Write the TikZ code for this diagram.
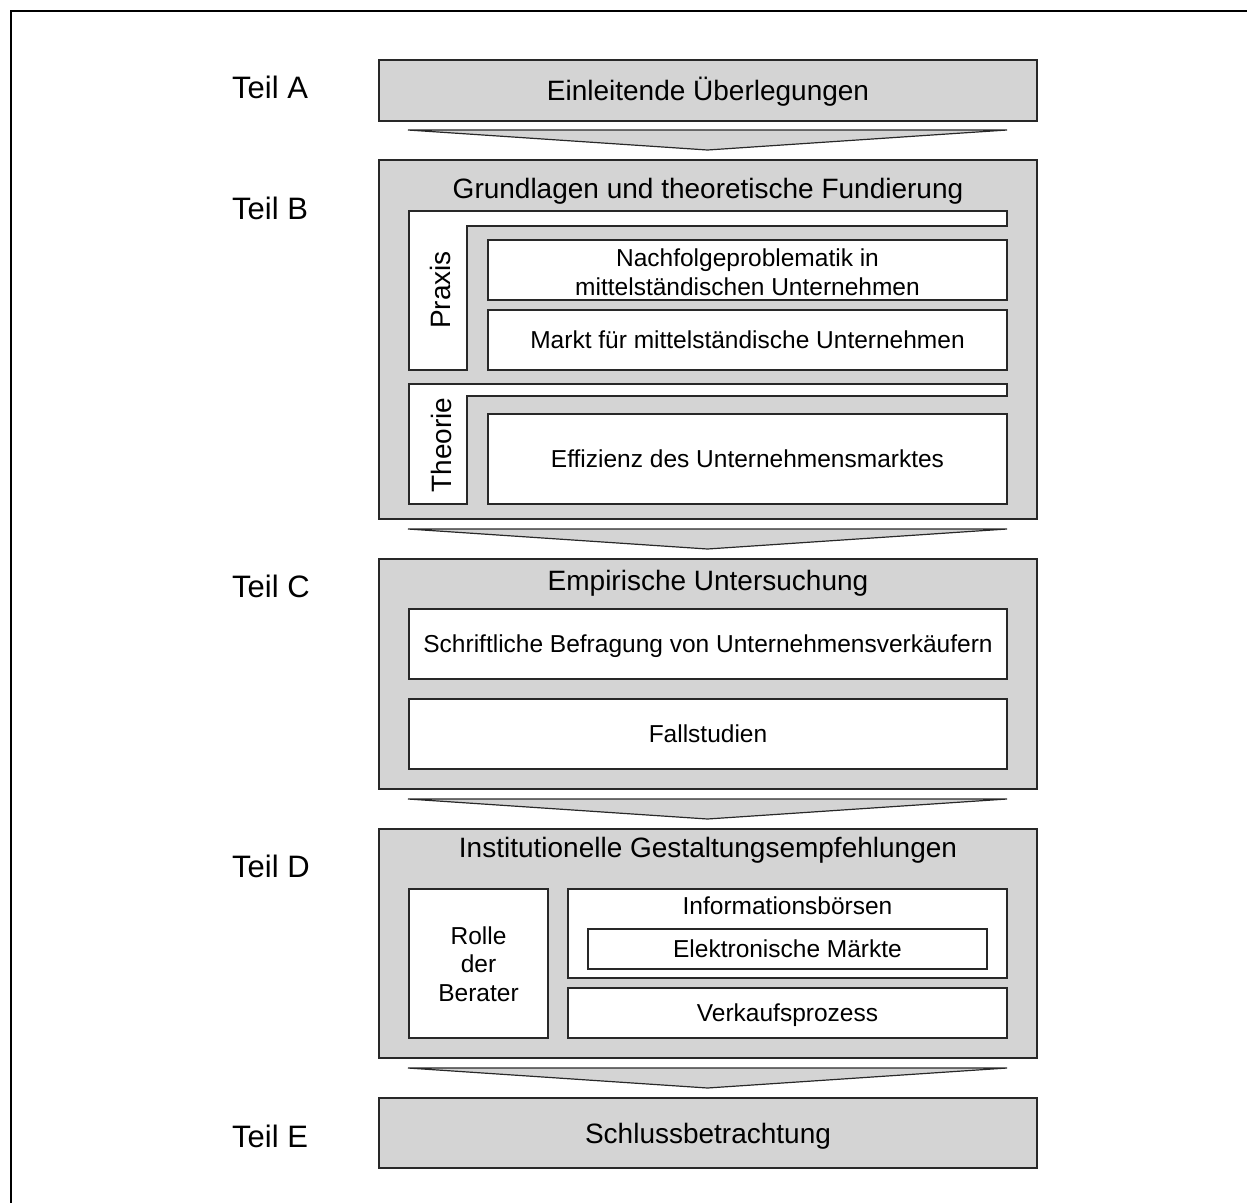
\documentclass[tikz,border=0pt]{standalone}
\usepackage{fontspec}
\setmainfont{Liberation Sans}
\usetikzlibrary{fit}
\definecolor{boxgray}{RGB}{212,212,212}
\definecolor{edgecol}{RGB}{40,40,40}
\newcommand{\fTitle}{\fontsize{28}{32}\selectfont}
\newcommand{\fInner}{\fontsize{24.5}{28.5}\selectfont}
\newcommand{\fTeil}{\fontsize{31}{36}\selectfont}
\begin{document}
\begin{tikzpicture}[x=1pt,y=-1pt,
  gbox/.style={draw=edgecol, line width=1.2pt, fill=boxgray, inner sep=0pt},
  wbox/.style={draw=edgecol, line width=1.2pt, fill=white, inner sep=0pt},
  chev/.style={draw=edgecol, line width=1.2pt, fill=boxgray, line join=miter},
  teil/.style={inner sep=0pt, anchor=base west, font=\fTeil},
  ttl/.style={inner sep=0pt, anchor=base, font=\fTitle},
  txt/.style={inner sep=0pt, anchor=base, font=\fInner},
  mtxt/.style={inner sep=0pt, align=center, font=\fInner},
  vtxt/.style={inner sep=0pt, anchor=base, rotate=90, font=\fTitle}
]
\useasboundingbox (0,0) rectangle (1247,1202);
\draw[line width=2.5pt] (11,1210) -- (11,11) -- (1255,11);

% Teil A
\node[teil] (tA) at (232,98) {Teil A};
\node[gbox, fit={(379,60)(1037,121)}] (A) {};
\node[ttl] (Atxt) at (708,100.5) {Einleitende Überlegungen};
\draw[chev] (408,130) -- (1007,130) -- (707.5,150) -- cycle;

% Teil B
\node[teil] (tB) at (232,219) {Teil B};
\node[gbox, fit={(379,160)(1037,519)}] (B) {};
\node[ttl] (Btxt) at (708,198) {Grundlagen und theoretische Fundierung};
\draw[wbox] (409,211) -- (1007,211) -- (1007,226) -- (467,226) -- (467,370) -- (409,370) -- cycle;
\node[vtxt] (praxis) at (450,290) {Praxis};
\node[wbox, fit={(488,240)(1007,300)}] (N) {};
\node[mtxt] (Ntxt) at (747.5,272) {Nachfolgeproblematik in\\mittelständischen Unternehmen};
\node[wbox, fit={(488,310)(1007,370)}] (M) {};
\node[txt] (Mtxt) at (747.5,348.7) {Markt für mittelständische Unternehmen};
\draw[wbox] (409,384) -- (1007,384) -- (1007,396) -- (467,396) -- (467,504) -- (409,504) -- cycle;
\node[vtxt] (theorie) at (451,445) {Theorie};
\node[wbox, fit={(488,414)(1007,504)}] (Eff) {};
\node[txt] (Efftxt) at (747.5,467.7) {Effizienz des Unternehmensmarktes};
\draw[chev] (408,529) -- (1007,529) -- (707.5,549) -- cycle;

% Teil C
\node[teil] (tC) at (232,597) {Teil C};
\node[gbox, fit={(379,559)(1037,789)}] (C) {};
\node[ttl] (Ctxt) at (708,590) {Empirische Untersuchung};
\node[wbox, fit={(409,609)(1007,679)}] (S) {};
\node[txt] (Stxt) at (708,652.7) {Schriftliche Befragung von Unternehmensverkäufern};
\node[wbox, fit={(409,699)(1007,769)}] (F) {};
\node[txt] (Ftxt) at (708,742.7) {Fallstudien};
\draw[chev] (408,799) -- (1007,799) -- (707.5,819) -- cycle;

% Teil D
\node[teil] (tD) at (232,877) {Teil D};
\node[gbox, fit={(379,829)(1037,1058)}] (D) {};
\node[ttl] (Dtxt) at (708,857) {Institutionelle Gestaltungsempfehlungen};
\node[wbox, fit={(409,889)(548,1038)}] (R) {};
\node[mtxt] (Rtxt) at (478.5,964) {Rolle\\der\\Berater};
\node[wbox, fit={(568,889)(1007,978)}] (I) {};
\node[txt] (Itxt) at (787.5,914) {Informationsbörsen};
\node[wbox, fit={(588,929)(987,969)}] (EM) {};
\node[txt] (EMtxt) at (787.5,957.5) {Elektronische Märkte};
\node[wbox, fit={(568,988)(1007,1038)}] (V) {};
\node[txt] (Vtxt) at (787.5,1021.7) {Verkaufsprozess};
\draw[chev] (408,1068) -- (1007,1068) -- (707.5,1088) -- cycle;

% Teil E
\node[teil] (tE) at (232,1147) {Teil E};
\node[gbox, fit={(379,1098)(1037,1168)}] (E5) {};
\node[ttl] (E5txt) at (708,1143) {Schlussbetrachtung};
\end{tikzpicture}
\end{document}
